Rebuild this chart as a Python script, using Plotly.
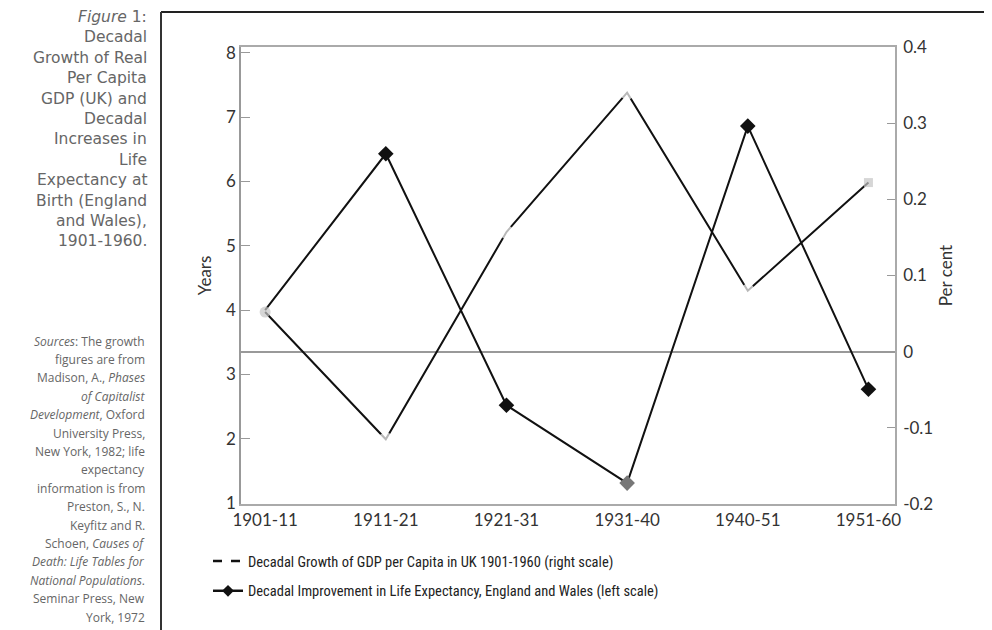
import plotly.graph_objects as go

# ---------------- data ----------------
periods = ["1901-11", "1911-21", "1921-31", "1931-40", "1940-51", "1951-60"]
gdp_growth = [0.052, -0.115, 0.157, 0.34, 0.08, 0.222]          # right scale, per cent
life_gain = [4.0, 6.43, 2.52, 1.31, 6.86, 2.77]                  # left scale, years
left_ticks = [1, 2, 3, 4, 5, 6, 7, 8]
left_ticktext = ["1", "2", "3", "4", "5", "6", "7", "8"]
right_ticks = [-0.2, -0.1, 0, 0.1, 0.2, 0.3, 0.4]
right_ticktext = ["-0.2", "-0.1", "0", "0.1", "0.2", "0.3", "0.4"]

gdp_name = "Decadal Growth of GDP per Capita in UK 1901-1960 (right scale)"
life_name = "Decadal Improvement in Life Expectancy, England and Wales (left scale)"

title_lines = ["<i>Figure</i> 1:", "Decadal", "Growth of Real", "Per Capita",
               "GDP (UK) and", "Decadal", "Increases in", "Life",
               "Expectancy at", "Birth (England", "and Wales),", "1901-1960."]
source_lines = ["<i>Sources</i>: The growth", "figures are from", "Madison, A., <i>Phases</i>",
                "<i>of Capitalist</i>", "<i>Development</i>, Oxford", "University Press,",
                "New York, 1982; life", "expectancy", "information is from",
                "Preston, S., N.", "Keyfitz and R.", "Schoen, <i>Causes of</i>",
                "<i>Death: Life Tables for</i>", "<i>National Populations</i>.",
                "Seminar Press, New", "York, 1972"]

# ---------------- layout geometry ----------------
# the page body adds an 8px offset; target positions below are window pixels
OFF = 8
W, H = 992, 630
PLOT_L, PLOT_R, PLOT_T, PLOT_B = 241, 895, 47, 504   # window pixels
L = PLOT_L - OFF
T = PLOT_T - OFF
R = W - (PLOT_R - OFF)
B = H - (PLOT_B - OFF)
PW, PH = W - L - R, H - T - B

def px_x(x):
    return (x - OFF - L) / PW

def px_y(y):
    return (H - B - (y - OFF)) / PH

TICKFONT = dict(family="Lato, Open Sans, sans-serif", size=17, color="#333")

fig = go.Figure()

n = len(periods)
# life expectancy (left axis)
life_colors = ["#111"] * n
life_colors[0] = "rgba(0,0,0,0)"
life_colors[3] = "#777"
fig.add_trace(go.Scatter(
    x=periods, y=life_gain, mode="lines+markers", name=life_name,
    line=dict(color="#111", width=2),
    marker=dict(symbol="diamond", size=12, color=life_colors),
    showlegend=False, yaxis="y"))

# GDP growth (right axis): solid segments broken at the interior points
gdp_colors = ["white"] * n
gdp_colors[0] = "#c4c4c4"
gdp_colors[-1] = "#c4c4c4"
gdp_symbols = ["circle"] + ["circle"] * (n - 2) + ["square"]
gdp_sizes = [11] + [14] * (n - 2) + [9]
fig.add_trace(go.Scatter(
    x=periods, y=gdp_growth, mode="lines+markers", name=gdp_name,
    line=dict(color="#111", width=2),
    marker=dict(symbol=gdp_symbols, size=gdp_sizes, color=gdp_colors, line=dict(width=0)),
    showlegend=False, yaxis="y2"))

# legend entries
fig.add_trace(go.Scatter(x=[None], y=[None], mode="lines", name=gdp_name,
                         line=dict(color="#111", width=2.5, dash="dash"),
                         legendgroup="g", yaxis="y2"))
fig.add_trace(go.Scatter(x=[None], y=[None], mode="lines+markers", name=life_name,
                         line=dict(color="#111", width=2.5),
                         marker=dict(symbol="diamond", size=9, color="#111"),
                         legendgroup="l", yaxis="y"))

annotations = []
for i, line in enumerate(title_lines):
    annotations.append(dict(
        x=px_x(148), y=px_y(17 + i * 20.4), xref="paper", yref="paper",
        xanchor="right", yanchor="middle", text=line, showarrow=False, borderpad=0,
        font=dict(family="DejaVu Sans, sans-serif", size=15.5, color="#666")))
for i, line in enumerate(source_lines):
    annotations.append(dict(
        x=px_x(146), y=px_y(341 + i * 18.4), xref="paper", yref="paper",
        xanchor="right", yanchor="middle", text=line, showarrow=False, borderpad=0,
        font=dict(family="Open Sans, sans-serif", size=12, color="#666")))

shapes = [
    dict(type="line", xref="paper", yref="paper", x0=px_x(161), x1=px_x(989),
         y0=px_y(12), y1=px_y(12), line=dict(color="#222", width=2)),
    dict(type="line", xref="paper", yref="paper", x0=px_x(161), x1=px_x(161),
         y0=px_y(12), y1=px_y(640), line=dict(color="#333", width=2)),
    dict(type="line", xref="paper", yref="paper", x0=px_x(989), x1=px_x(989),
         y0=px_y(12), y1=px_y(640), line=dict(color="#333", width=2)),
]

fig.update_layout(
    width=W, height=H, autosize=False,
    margin=dict(l=L, r=R, t=T, b=B, pad=0),
    paper_bgcolor="white", plot_bgcolor="white",
    showlegend=True,
    legend=dict(x=px_x(208), y=px_y(545), xanchor="left", yanchor="top",
                bgcolor="rgba(0,0,0,0)", tracegroupgap=8,
                font=dict(family="Roboto Condensed, DejaVu Sans Condensed, Liberation Sans Narrow, Lato, sans-serif",
                          size=14.5, color="#222")),
    xaxis=dict(type="category", range=[-0.2, 5.22], showgrid=False, zeroline=False,
               showline=True, linecolor="#aaa", linewidth=1.5, mirror=True,
               ticks="", tickfont=TICKFONT, fixedrange=True),
    yaxis=dict(range=[0.985, 8.09], tickvals=left_ticks, ticktext=left_ticktext,
               showgrid=False, zeroline=False, showline=True, linecolor="#999", linewidth=1.5,
               ticks="inside", ticklen=9, tickcolor="#999", tickwidth=1,
               tickfont=TICKFONT,
               title=dict(text="Years", font=TICKFONT, standoff=10)),
    yaxis2=dict(range=[-0.2, 0.4], tickvals=right_ticks, ticktext=right_ticktext,
                overlaying="y", side="right",
                showgrid=False, zeroline=True, zerolinecolor="#999", zerolinewidth=1.5,
                showline=True, linecolor="#aaa", linewidth=1.5,
                ticks="inside", ticklen=8, tickcolor="#999", tickwidth=1,
                ticklabelstandoff=3,
                tickfont=TICKFONT,
                title=dict(text="Per cent", font=TICKFONT, standoff=8)),
    annotations=annotations,
    shapes=shapes,
)

fig.write_html("out.html")
